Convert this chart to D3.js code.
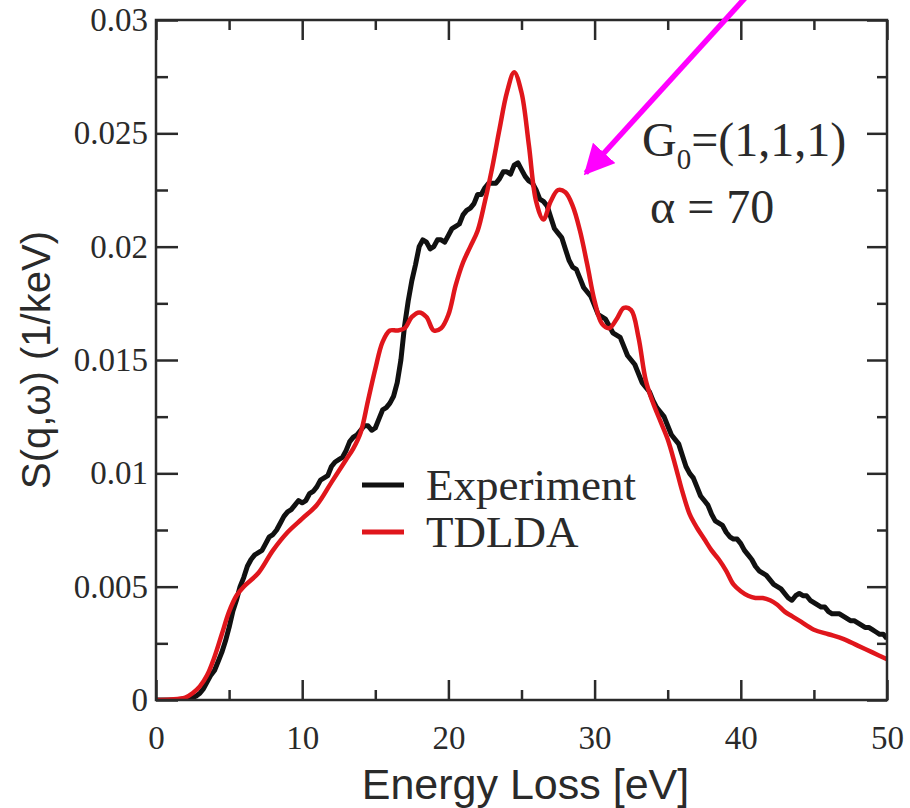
<!DOCTYPE html>
<html>
<head>
<meta charset="utf-8">
<script src="https://cdn.jsdelivr.net/npm/d3@7"></script>
<style>
  html, body { margin: 0; padding: 0; background: #fff; }
  svg { display: block; }
</style>
</head>
<body>
<svg id="chart" width="910" height="808"></svg>
<script>
// Energy loss grid (eV, 0.25 eV steps) and measured S(q,w) (1/keV)
const expEnergy = d3.range(0, 50.001, 0.25);
const expValues = [
  0, 0, 0, 0, 0, 0, 0.00002, 0.00003,
  0.00005, 0.00007, 0.0001, 0.00018,
  0.0003, 0.0005, 0.0008, 0.0011,
  0.0013, 0.0017, 0.0021, 0.0026,
  0.0032, 0.0039, 0.0044, 0.0050,
  0.0054, 0.0059, 0.0062, 0.0064,
  0.0065, 0.0066, 0.0069, 0.0072,
  0.0073, 0.0075, 0.0078, 0.0081,
  0.0083, 0.0084, 0.0086, 0.0088,
  0.0087, 0.0088, 0.0091, 0.0092,
  0.0094, 0.0097, 0.0098, 0.0099,
  0.0103, 0.0105, 0.0106, 0.0107,
  0.0110, 0.0114, 0.0116, 0.0117,
  0.0119, 0.0121, 0.0121, 0.0119,
  0.0120, 0.0124, 0.0128, 0.0129,
  0.0131, 0.0134, 0.0140, 0.0150,
  0.0165, 0.0176, 0.0185, 0.0192,
  0.0200, 0.0203, 0.0202, 0.0199,
  0.0200, 0.0203, 0.0203, 0.0202,
  0.0205, 0.0208, 0.0209, 0.0210,
  0.0214, 0.0216, 0.0217, 0.0219,
  0.0223, 0.0223, 0.0226, 0.0228,
  0.0228, 0.0228, 0.0230, 0.0233,
  0.0233, 0.0232, 0.0236, 0.0237,
  0.0234, 0.0231, 0.0229, 0.0228,
  0.0225, 0.0221, 0.0220, 0.0218,
  0.0213, 0.0208, 0.0206, 0.0204,
  0.0199, 0.0194, 0.0191, 0.0190,
  0.0186, 0.0182, 0.0180, 0.0178,
  0.0174, 0.0170, 0.0169, 0.0168,
  0.0165, 0.0162, 0.0161, 0.0160,
  0.0156, 0.0152, 0.0150, 0.0148,
  0.0144, 0.0140, 0.0138, 0.0136,
  0.0132, 0.0129, 0.0127, 0.0125,
  0.0121, 0.0117, 0.0115, 0.0113,
  0.0108, 0.0103, 0.0100, 0.0098,
  0.0094, 0.0090, 0.0088, 0.0086,
  0.0082, 0.0079, 0.0078, 0.0077,
  0.0074, 0.0072, 0.0071, 0.0071,
  0.0069, 0.0066, 0.0064, 0.0062,
  0.0059, 0.0057, 0.0056, 0.0055,
  0.0053, 0.0051, 0.0050, 0.0049,
  0.0047, 0.0045, 0.0044, 0.0046,
  0.0047, 0.0046, 0.0046, 0.0044,
  0.0043, 0.0042, 0.0041, 0.0041,
  0.0039, 0.0038, 0.0038, 0.0038,
  0.0037, 0.0036, 0.0035, 0.0035,
  0.0034, 0.0033, 0.0032, 0.0032,
  0.0031, 0.0030, 0.0029, 0.0029,
  0.0027
];

// TDLDA calculation
const tdldaEnergy = [
  0, 1, 2, 2.5, 3, 3.5, 4, 4.5, 5, 5.5, 6, 7, 8, 9, 10, 11, 12, 13, 13.5, 14,
  14.5, 15, 15.5, 16, 16.5, 17, 17.5, 18, 18.5, 19, 19.5, 20, 20.5, 21, 21.5, 22,
  22.5, 23, 23.5, 24, 24.5, 25, 25.5, 26, 26.5, 27, 27.5, 28, 28.5, 29, 29.5, 30,
  30.5, 31, 31.5, 32, 32.5, 33, 33.5, 34, 34.5, 35, 35.5, 36, 36.5, 37, 37.5, 38,
  38.5, 39, 39.5, 40, 40.5, 41, 41.5, 42, 42.5, 43, 43.5, 44, 45, 46, 47, 48, 49, 50
];
const tdldaValues = [
  0, 0.00002, 0.0001, 0.0003, 0.0006, 0.0011, 0.0019, 0.0029, 0.0039, 0.0046,
  0.0050, 0.0056, 0.0066, 0.0074, 0.0080, 0.0086, 0.0096, 0.0106, 0.0111, 0.0118,
  0.0132, 0.0146, 0.0158, 0.0163, 0.0163, 0.0164, 0.0169, 0.0171, 0.0169, 0.0163,
  0.0164, 0.0170, 0.0183, 0.0193, 0.0200, 0.0207, 0.0220, 0.0235, 0.0252, 0.0268,
  0.0277, 0.0268, 0.0245, 0.0220, 0.0212, 0.0220, 0.0225, 0.0224, 0.0218, 0.0207,
  0.0192, 0.0176, 0.0166, 0.0164, 0.0168, 0.0173, 0.0172, 0.0160, 0.0141, 0.0131,
  0.0123, 0.0115, 0.0104, 0.0092, 0.0082, 0.0076, 0.0071, 0.0066, 0.0062, 0.0057,
  0.0051, 0.0048, 0.0046, 0.0045, 0.0045, 0.0044, 0.0042, 0.0039, 0.0037, 0.0035,
  0.0031, 0.0029, 0.0027, 0.0024, 0.0021, 0.0018
];

const xTicks = [0, 10, 20, 30, 40, 50];
const yTicks = [0, 0.005, 0.01, 0.015, 0.02, 0.025, 0.03];
const seriesNames = ["Experiment", "TDLDA"];
const seriesColors = ["#111111", "#e0161c"];

const svg = d3.select("#chart");
const frame = { left: 156, right: 887, top: 20, bottom: 700 };

const x = d3.scaleLinear().domain([0, 50]).range([frame.left, frame.right]);
const y = d3.scaleLinear().domain([0, 0.03]).range([frame.bottom, frame.top]);

const serif = "'Liberation Serif', 'Times New Roman', serif";
const sans = "'Liberation Sans', Arial, Helvetica, sans-serif";
const axisColor = "#2a2a2a";
const textColor = "#2a2a2a";

const minorX = d3.range(5, 50, 10);
const minorY = d3.range(0.0025, 0.03, 0.005);

// Curves, clipped to the plotting frame
svg.append("clipPath").attr("id", "plot-clip")
  .append("rect").attr("x", frame.left).attr("y", frame.top)
  .attr("width", frame.right - frame.left).attr("height", frame.bottom - frame.top);

const plot = svg.append("g").attr("clip-path", "url(#plot-clip)");

const expData = expEnergy.map((e, i) => [e, expValues[i]]);
const tdldaData = tdldaEnergy.map((e, i) => [e, tdldaValues[i]]);

plot.append("path")
  .datum(expData)
  .attr("fill", "none")
  .attr("stroke", seriesColors[0])
  .attr("stroke-width", 5)
  .attr("stroke-linejoin", "round")
  .attr("d", d3.line().x(d => x(d[0])).y(d => y(d[1])).curve(d3.curveLinear));

plot.append("path")
  .datum(tdldaData)
  .attr("fill", "none")
  .attr("stroke", seriesColors[1])
  .attr("stroke-width", 4.5)
  .attr("stroke-linejoin", "round")
  .attr("d", d3.line().x(d => x(d[0])).y(d => y(d[1])).curve(d3.curveCatmullRom.alpha(0.5)));

// Axes: ticks point inward on all four sides
const tickStyle = g => {
  g.select(".domain").remove();
  g.selectAll(".tick line").attr("stroke", axisColor).attr("stroke-width", 2.5);
};

svg.append("g").attr("transform", `translate(0,${frame.bottom})`)
  .call(d3.axisBottom(x).tickValues(xTicks).tickSize(-20).tickPadding(26).tickFormat(d3.format("d")))
  .call(tickStyle)
  .call(g => g.selectAll("text").attr("font-family", serif).attr("font-size", 33).attr("fill", textColor));
svg.append("g").attr("transform", `translate(0,${frame.bottom})`)
  .call(d3.axisBottom(x).tickValues(minorX).tickSize(-10).tickFormat(""))
  .call(tickStyle);

svg.append("g").attr("transform", `translate(0,${frame.top})`)
  .call(d3.axisTop(x).tickValues(xTicks).tickSize(-20).tickFormat(""))
  .call(tickStyle);
svg.append("g").attr("transform", `translate(0,${frame.top})`)
  .call(d3.axisTop(x).tickValues(minorX).tickSize(-10).tickFormat(""))
  .call(tickStyle);

svg.append("g").attr("transform", `translate(${frame.left},0)`)
  .call(d3.axisLeft(y).tickValues(yTicks).tickSize(-22).tickPadding(8)
    .tickFormat(d => d === 0 ? "0" : String(+d.toFixed(3))))
  .call(tickStyle)
  .call(g => g.selectAll("text").attr("font-family", serif).attr("font-size", 33).attr("fill", textColor));
svg.append("g").attr("transform", `translate(${frame.left},0)`)
  .call(d3.axisLeft(y).tickValues(minorY).tickSize(-12).tickFormat(""))
  .call(tickStyle);

svg.append("g").attr("transform", `translate(${frame.right},0)`)
  .call(d3.axisRight(y).tickValues(yTicks).tickSize(-20).tickFormat(""))
  .call(tickStyle);
svg.append("g").attr("transform", `translate(${frame.right},0)`)
  .call(d3.axisRight(y).tickValues(minorY).tickSize(-10).tickFormat(""))
  .call(tickStyle);

// Frame
svg.append("rect")
  .attr("x", frame.left).attr("y", frame.top)
  .attr("width", frame.right - frame.left).attr("height", frame.bottom - frame.top)
  .attr("fill", "none").attr("stroke", axisColor).attr("stroke-width", 2.5);

// Axis titles
svg.append("text")
  .attr("x", (frame.left + frame.right) / 2 + 4).attr("y", 799)
  .attr("text-anchor", "middle")
  .attr("font-family", sans).attr("font-size", 43).attr("fill", textColor)
  .text("Energy Loss [eV]");

svg.append("text")
  .attr("transform", "translate(50,360) rotate(-90)")
  .attr("text-anchor", "middle")
  .attr("font-family", sans).attr("font-size", 40).attr("fill", textColor)
  .text("S(q,ω) (1/keV)");

// Legend
const legend = svg.append("g").attr("transform", "translate(362,485)");
seriesNames.forEach((name, i) => {
  const row = legend.append("g").attr("transform", `translate(0,${i * 47})`);
  row.append("line").attr("x1", 0).attr("x2", 42).attr("y1", 0).attr("y2", 0)
    .attr("stroke", seriesColors[i]).attr("stroke-width", 5);
  row.append("text").attr("x", 64).attr("y", 15)
    .attr("font-family", serif).attr("font-size", 45).attr("fill", textColor)
    .text(name);
});

// Parameter annotation
const note = svg.append("text")
  .attr("x", 642).attr("y", 156)
  .attr("font-family", serif).attr("font-size", 48).attr("fill", textColor);
note.append("tspan").text("G");
note.append("tspan").attr("font-size", 29).attr("dy", 13).text("0");
note.append("tspan").attr("dy", -13).text("=(1,1,1)");

svg.append("text")
  .attr("x", 650).attr("y", 223)
  .attr("font-family", serif).attr("font-size", 48).attr("fill", textColor)
  .text("α = 70");

// Pointer arrow toward the shoulder of the TDLDA curve
const arrowFrom = [41.6, 0.0319];
const arrowTo = [29.4, 0.02325];
svg.append("defs").append("marker")
  .attr("id", "arrowhead")
  .attr("viewBox", "0 0 10 10")
  .attr("refX", 9).attr("refY", 5)
  .attr("markerWidth", 5.5).attr("markerHeight", 5.5)
  .attr("markerUnits", "strokeWidth")
  .attr("orient", "auto")
  .append("path").attr("d", "M0,0 L10,5 L0,10 Z").attr("fill", "#ff00ff");

svg.append("line")
  .attr("x1", x(arrowFrom[0])).attr("y1", y(arrowFrom[1]))
  .attr("x2", x(arrowTo[0])).attr("y2", y(arrowTo[1]))
  .attr("stroke", "#ff00ff").attr("stroke-width", 5.5)
  .attr("marker-end", "url(#arrowhead)");
</script>
</body>
</html>
